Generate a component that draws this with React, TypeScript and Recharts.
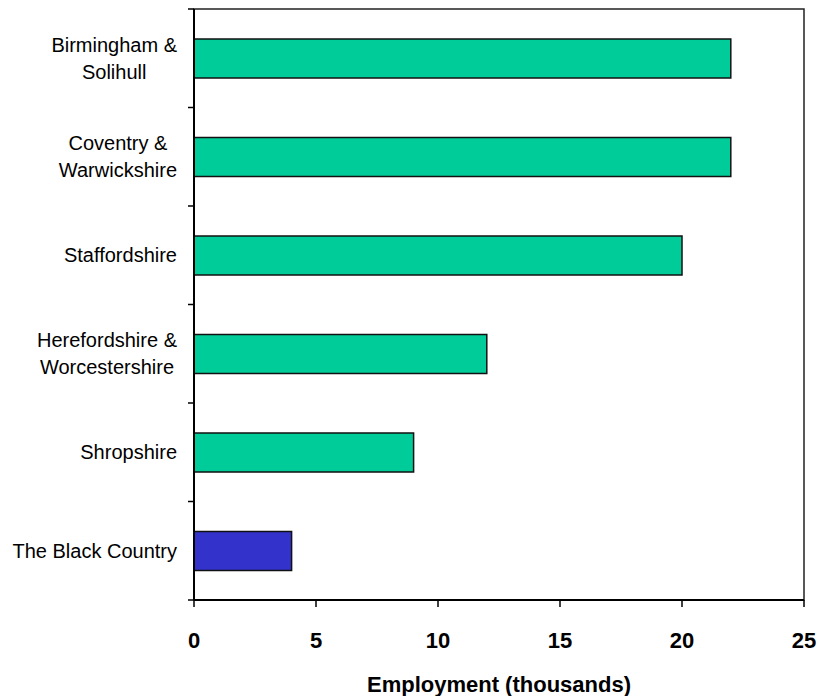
import React from "react";
import { BarChart, Bar, XAxis, YAxis, Cell, ReferenceArea, Label } from "recharts";

const regions = [
  "Birmingham & Solihull",
  "Coventry & Warwickshire",
  "Staffordshire",
  "Herefordshire & Worcestershire",
  "Shropshire",
  "The Black Country",
];
const regionLines = [
  ["Birmingham &", "Solihull"],
  ["Coventry &", "Warwickshire"],
  ["Staffordshire"],
  ["Herefordshire &", "Worcestershire"],
  ["Shropshire"],
  ["The Black Country"],
];
const employment = [22, 22, 20, 12, 9, 4];
const barColors = ["#00CC99", "#00CC99", "#00CC99", "#00CC99", "#00CC99", "#3333CC"];
const xTicks = [0, 5, 10, 15, 20, 25];

const data = regions.map((name, i) => ({ name, value: employment[i], color: barColors[i] }));

const FONT = "'Liberation Sans', Arial, sans-serif";
const Y_FS = 20;
const LINE_GAP = 27;

let ctx: CanvasRenderingContext2D | null = null;
function measure(t: string): number {
  if (!ctx) {
    const c = document.createElement("canvas");
    ctx = c.getContext("2d");
  }
  if (!ctx) return t.length * Y_FS * 0.5;
  ctx.font = `${Y_FS}px ${FONT}`;
  return ctx.measureText(t).width;
}

const YTick = (props: any) => {
  const { x, y, payload, index, visibleTicksCount } = props;
  const half = payload && payload.offset != null ? payload.offset : 0;
  const lines: string[] = regionLines[regions.indexOf(payload.value)] || [payload.value];
  const right = x - 17;
  const widths = lines.map(measure);
  const maxW = Math.max(...widths);
  const center = right - maxW / 2;
  const n = lines.length;
  return (
    <g>
      <line x1={x - 6} x2={x} y1={y - half} y2={y - half} stroke="#000" strokeWidth={1.5} />
      {index === visibleTicksCount - 1 && (
        <line x1={x - 6} x2={x} y1={y + half} y2={y + half} stroke="#000" strokeWidth={1.5} />
      )}
      {lines.map((l, i) => (
        <text
          key={i}
          x={center}
          y={y + (i - (n - 1) / 2) * LINE_GAP}
          dy="0.35em"
          textAnchor="middle"
          fontFamily={FONT}
          fontSize={Y_FS}
          fill="#000"
        >
          {l}
        </text>
      ))}
    </g>
  );
};

export default function App() {
  return (
    <div style={{ position: "absolute", left: 0, top: 0, width: 820, height: 696, overflow: "hidden", background: "#fff" }}>
      <BarChart
        width={820}
        height={696}
        data={data}
        layout="vertical"
        margin={{ top: 9, right: 16, bottom: 0, left: 0 }}
      >
        <ReferenceArea x1={0} x2={25} fill="none" fillOpacity={0} stroke="#222" strokeWidth={1.5} ifOverflow="visible" />
        <XAxis
          type="number"
          domain={[0, 25]}
          ticks={xTicks}
          interval={0}
          height={96}
          axisLine={{ stroke: "#000", strokeWidth: 2 }}
          tickLine={{ stroke: "#000", strokeWidth: 1.5 }}
          tickSize={7}
          tickMargin={25}
          tick={{ fill: "#000", fontSize: 22, fontWeight: "bold", fontFamily: FONT }}
        >
          <Label
            value="Employment (thousands)"
            position="insideBottom"
            offset={4}
            fill="#000"
            fontSize={22}
            fontWeight="bold"
            fontFamily={FONT}
          />
        </XAxis>
        <YAxis
          type="category"
          dataKey="name"
          width={194}
          interval={0}
          axisLine={{ stroke: "#000", strokeWidth: 2 }}
          tickLine={false}
          tickSize={0}
          tickMargin={0}
          tick={<YTick />}
        />
        <Bar dataKey="value" barSize={39} stroke="#111" strokeWidth={1.5} isAnimationActive={false}>
          {data.map((d, i) => (
            <Cell key={i} fill={d.color} />
          ))}
        </Bar>
      </BarChart>
    </div>
  );
}
